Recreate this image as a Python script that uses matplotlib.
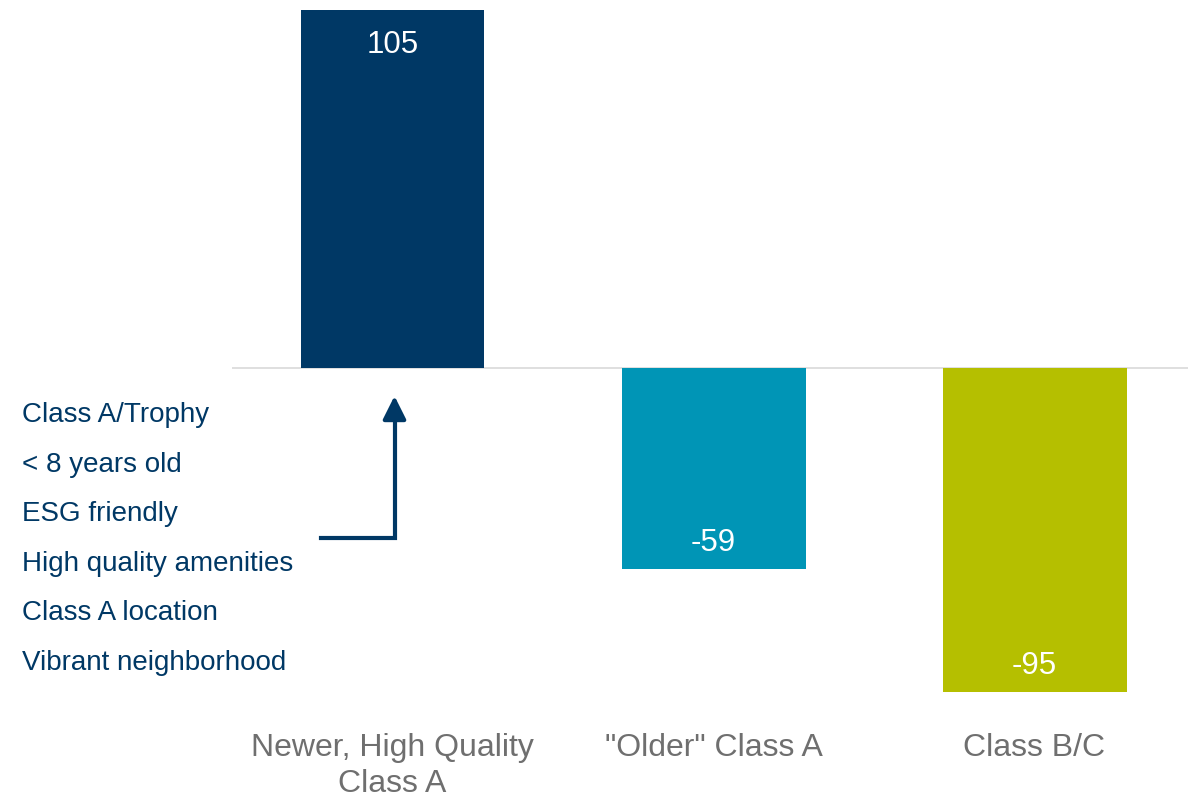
import matplotlib
matplotlib.use("Agg")
import matplotlib.pyplot as plt
from matplotlib.transforms import blended_transform_factory

categories = ["Newer, High Quality\nClass A", "\"Older\" Class A", "Class B/C"]
values = [105, -59, -95]
colors = ["#003865", "#0095B6", "#B5BF00"]
features = ["Class A/Trophy", "< 8 years old", "ESG friendly",
            "High quality amenities", "Class A location", "Vibrant neighborhood"]

plt.rcParams['font.family'] = ['Liberation Sans', 'DejaVu Sans']

W, H, DPI = 1188, 799, 100
fig = plt.figure(figsize=(W / DPI, H / DPI), dpi=DPI)
fig.patch.set_facecolor("white")

ax_left, ax_bottom = 232 / W, 99 / H
ax = fig.add_axes([ax_left, ax_bottom, 1 - ax_left, 1 - ax_bottom])
ax.set_xlim(-0.5, 2.478)
ax.set_ylim(-97.4, 107.9)
for s in ax.spines.values():
    s.set_visible(False)
ax.set_xticks([])
ax.set_yticks([])
ax.axhline(0, color="#D9D9D9", lw=1.2, zorder=1)

x = list(range(len(categories)))
bars = ax.bar(x, values, width=0.573, color=colors, zorder=2)

for xi, v in zip(x, values):
    off = -25.5 if v > 0 else 18.5
    ax.annotate(str(v), xy=(xi, v), xytext=(0, off), textcoords="offset points",
                ha="center", va="center", color="white", fontsize=22.5)

# category labels
trans = blended_transform_factory(ax.transData, fig.transFigure)
for xi, lab in zip(x, categories):
    yc = (799 - 766) / H if "\n" in lab else (799 - 748.5) / H
    ax.text(xi, yc, lab, transform=trans, ha="center", va="center",
            fontsize=23, color="#6F6F6F", linespacing=1.22, clip_on=False)

# left feature list
ys = [415, 465, 514, 564, 613, 663]
for t, yy in zip(features, ys):
    fig.text(22 / W, 1 - yy / H, t, ha="left", va="center", fontsize=20, color="#003865")

# arrow
fig_px = fig.transFigure
ln = plt.Line2D([321 / W, 394.5 / W, 394.5 / W], [1 - 538 / H, 1 - 538 / H, 1 - 410 / H],
                transform=fig_px, color="#003865", lw=3, solid_joinstyle="miter")
fig.add_artist(ln)
fig.add_artist(matplotlib.patches.FancyArrowPatch(
    (394.5 / W, 1 - 420 / H), (394.5 / W, 1 - 396 / H), transform=fig_px,
    arrowstyle="-|>,head_length=10,head_width=5", mutation_scale=1.4,
    color="#003865", lw=3, shrinkA=0, shrinkB=0))

fig.savefig("out.png", dpi=DPI, facecolor="white")
